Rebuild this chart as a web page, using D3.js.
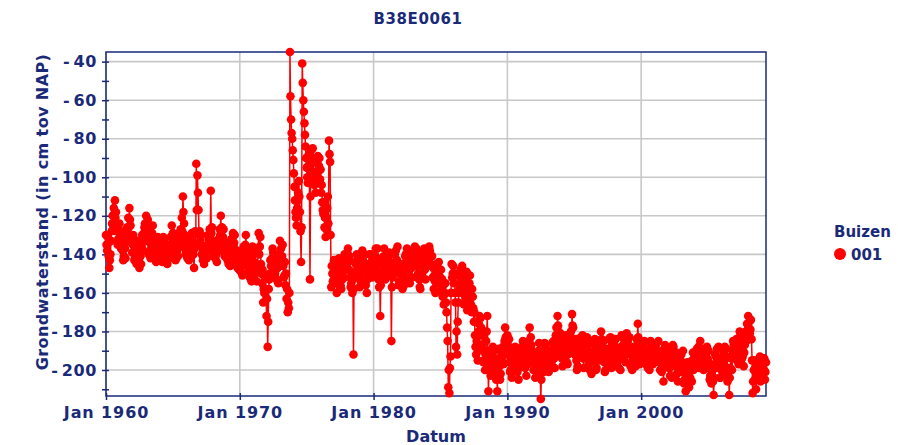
<!DOCTYPE html>
<html><head><meta charset="utf-8">
<script src="https://cdn.jsdelivr.net/npm/d3@7/dist/d3.min.js"></script>
<style>body{margin:0;background:#fff} svg{display:block} text{font-family:"DejaVu Sans",Verdana,sans-serif;font-weight:bold;fill:#1a2a78}</style>
</head><body><svg id="c" width="898" height="445"></svg>
<script>
const title = "B38E0061";
const yLabel = "Grondwaterstand (in cm tov NAP)";
const xLabel = "Datum";
const legendTitle = "Buizen";
const seriesName = "001";
const firstMonth = "1960-01-01";
const yTicks = [-40, -60, -80, -100, -120, -140, -160, -180, -200];
const yMinorTicks = [-50, -70, -90, -110, -130, -150, -170, -190, -210];
const xTickYears = [1960, 1970, 1980, 1990, 2000];
const yDomain = [-213.5, -35];

// readings on the 1st of each month (cm tov NAP), one row per year
const levels1960s = [
  -130,-138,-134,-147,-140,-128,-120,-116,-112,-118,-126,-132,
  -124,-128,-134,-138,-141,-137,-132,-126,-121,-116,-125,-131,
  -135,-139,-142,-140,-138,-144,-147,-141,-136,-132,-129,-124,
  -120,-127,-133,-139,-142,-134,-125,-133,-140,-144,-138,-135,
  -138,-143,-140,-136,-133,-138,-141,-145,-142,-137,-131,-125,
  -129,-135,-139,-142,-138,-134,-130,-127,-121,-110,-124,-134,
  -138,-142,-139,-135,-132,-129,-134,-147,-128,-93,-99,-117,
  -128,-135,-140,-143,-145,-141,-138,-135,-132,-127,-107,-126,
  -134,-139,-142,-140,-137,-132,-127,-120,-126,-131,-135,-138,
  -140,-143,-145,-141,-137,-133,-129,-134,-139,-144,-147,-142
];
const levels1970s = [
  -145,-149,-146,-141,-137,-135,-140,-145,-149,-152,-147,-141,
  -138,-144,-150,-154,-147,-129,-136,-145,-155,-165,-160,-151,
  -172,-188,-158,-150,-146,-142,-139,-144,-148,-153,-147,-140,
  -133,-137,-141,-146,-151,-156,-163,-170,-168,-35,-70,-80,
  -91,-105,-118,-125,-112,-102,-118,-144,-41,-60,-72,-84,
  -95,-103,-88,-153,-86,-90,-97,-104,-108,-99,-89,-94,
  -101,-108,-113,-119,-126,-131,-121,-110,-81,-92,-157,-150,
  -150,-145,-155,-160,-148,-142,-150,-158,-153,-146,-140,-148,
  -143,-137,-148,-152,-155,-160,-192,-150,-145,-140,-146,-152,
  -148,-142,-138,-145,-150,-156,-160,-152,-146,-140,-144,-150
];
const levels1980s = [
  -145,-140,-137,-142,-150,-157,-172,-150,-145,-141,-146,-152,
  -148,-142,-139,-145,-185,-152,-146,-140,-138,-143,-149,-154,
  -150,-155,-158,-150,-145,-140,-137,-142,-148,-152,-147,-141,
  -138,-136,-141,-146,-150,-153,-158,-145,-140,-143,-148,-144,
  -140,-137,-136,-140,-146,-152,-158,-154,-150,-146,-150,-155,
  -152,-158,-162,-166,-160,-165,-178,-209,-212,-193,-145,-150,
  -155,-160,-188,-192,-165,-158,-148,-151,-160,-166,-158,-152,
  -169,-160,-155,-162,-170,-162,-175,-182,-192,-188,-180,-172,
  -173,-182,-190,-195,-200,-185,-172,-211,-198,-203,-193,-188,
  -195,-200,-205,-211,-194,-198,-202,-195,-188,-192,-178,-185
];
const levels1990s = [
  -182,-190,-196,-200,-204,-198,-193,-188,-195,-201,-205,-197,
  -192,-188,-185,-193,-199,-203,-197,-190,-178,-183,-190,-196,
  -200,-204,-198,-194,-190,-195,-215,-200,-196,-192,-188,-193,
  -197,-201,-196,-191,-186,-190,-194,-188,-178,-172,-180,-186,
  -190,-194,-189,-184,-188,-192,-197,-190,-183,-180,-171,-178,
  -185,-190,-195,-198,-192,-187,-183,-188,-194,-190,-185,-189,
  -193,-197,-200,-196,-191,-186,-190,-195,-199,-194,-189,-185,
  -180,-186,-191,-196,-200,-195,-190,-184,-189,-194,-198,-192,
  -188,-184,-190,-195,-199,-194,-188,-183,-187,-192,-196,-181,
  -185,-188,-192,-197,-200,-194,-189,-198,-184,-176,-190,-194
];
const levels2000s = [
  -189,-192,-188,-185,-190,-195,-199,-194,-190,-186,-191,-196,
  -193,-189,-186,-191,-196,-200,-195,-198,-206,-193,-189,-192,
  -195,-199,-203,-198,-193,-188,-192,-197,-202,-206,-200,-195,
  -192,-196,-201,-205,-211,-203,-198,-209,-204,-199,-195,-200,
  -197,-192,-189,-194,-199,-185,-190,-195,-200,-196,-192,-188,
  -195,-199,-203,-207,-200,-213,-198,-193,-189,-194,-199,-204,
  -200,-196,-191,-188,-194,-200,-205,-213,-199,-194,-190,-187,
  -185,-190,-195,-191,-186,-182,-188,-193,-198,-187,-180,-176,
  -172,-175,-179,-184,-212,-200,-205,-210,-203,-198,-201,-206,
  -197,-194,-200,-205,-196
];

// readings on the 15th of each month (cm tov NAP)
const mid1960s = [
  -135,-131,-141,-143,-133,-124,-125,-119,-121,-128,-135,-127,
  -131,-137,-129,-143,-134,-142,-128,-133,-126,-122,-134,-139,
  -130,-143,-136,-145,-133,-140,-139,-145,-130,-138,-126,-133,
  -129,-122,-140,-134,-137,-129,-131,-138,-135,-140,-131,-141,
  -134,-139,-144,-131,-140,-135,-144,-139,-135,-142,-135,-130,
  -137,-131,-143,-136,-141,-129,-136,-131,-128,-118,-130,-140,
  -134,-137,-143,-131,-137,-135,-140,-137,-135,-117,-108,-130,
  -133,-130,-137,-139,-140,-136,-142,-130,-138,-131,-129,-133,
  -141,-135,-137,-144,-133,-138,-130,-131,-135,-127,-141,-134,
  -136,-139,-140,-146,-132,-138,-136,-130,-143,-138,-141,-148
];
const mid1970s = [
  -140,-144,-151,-136,-142,-130,-146,-138,-143,-145,-154,-136,
  -147,-139,-145,-148,-139,-140,-131,-150,-148,-158,-152,-158,
  -163,-175,-153,-143,-152,-137,-147,-150,-141,-146,-155,-145,
  -141,-145,-135,-152,-144,-150,-158,-165,-160,-58,-77,-86,
  -98,-112,-121,-116,-108,-110,-128,-126,-51,-66,-78,-90,
  -100,-94,-96,-110,-93,-85,-101,-98,-103,-92,-97,-90,
  -96,-104,-117,-113,-121,-127,-116,-124,-88,-130,-146,-154,
  -143,-152,-148,-154,-144,-149,-156,-151,-145,-152,-147,-141,
  -139,-144,-141,-157,-149,-153,-158,-144,-151,-148,-141,-157,
  -154,-146,-143,-140,-155,-149,-153,-145,-140,-148,-152,-143
];
const mid1980s = [
  -150,-143,-146,-137,-153,-149,-156,-142,-150,-137,-153,-147,
  -143,-148,-144,-151,-157,-145,-150,-144,-147,-136,-156,-147,
  -145,-151,-153,-156,-141,-146,-143,-138,-155,-145,-152,-138,
  -143,-140,-137,-152,-144,-157,-150,-139,-146,-137,-153,-139,
  -144,-142,-138,-145,-141,-147,-151,-160,-145,-152,-144,-159,
  -148,-153,-156,-161,-155,-170,-185,-200,-199,-160,-152,-146,
  -150,-165,-180,-175,-160,-152,-155,-146,-156,-161,-163,-149,
  -158,-165,-151,-166,-158,-168,-170,-188,-185,-195,-176,-180,
  -178,-187,-196,-190,-192,-180,-190,-200,-193,-196,-200,-194,
  -190,-196,-199,-203,-189,-205,-196,-191,-197,-185,-183,-192
];
const mid1990s = [
  -187,-184,-201,-194,-197,-192,-199,-194,-190,-197,-199,-191,
  -197,-194,-190,-188,-194,-197,-192,-185,-190,-187,-194,-200,
  -195,-199,-193,-199,-186,-201,-205,-193,-201,-186,-195,-199,
  -192,-196,-190,-197,-192,-185,-199,-182,-185,-177,-192,-181,
  -185,-198,-183,-191,-182,-196,-192,-186,-189,-186,-177,-184,
  -192,-184,-200,-191,-187,-193,-190,-182,-199,-184,-193,-183,
  -187,-191,-194,-202,-185,-192,-184,-200,-193,-188,-195,-190,
  -184,-192,-185,-201,-194,-189,-196,-190,-183,-199,-192,-186,
  -193,-189,-196,-189,-193,-200,-182,-189,-194,-186,-189,-186,
  -191,-183,-198,-192,-195,-188,-194,-190,-188,-183,-197,-188
];
const mid2000s = [
  -195,-186,-193,-191,-197,-189,-193,-200,-185,-193,-197,-190,
  -187,-194,-192,-185,-190,-194,-201,-190,-199,-187,-195,-198,
  -190,-194,-197,-204,-187,-194,-198,-191,-196,-199,-194,-201,
  -198,-190,-207,-199,-205,-196,-204,-201,-196,-206,-191,-194,
  -191,-198,-195,-188,-193,-192,-196,-189,-194,-191,-198,-194,
  -190,-205,-197,-201,-206,-204,-192,-199,-195,-188,-204,-198,
  -194,-202,-197,-193,-189,-206,-199,-204,-193,-200,-185,-193,
  -191,-184,-189,-197,-180,-188,-194,-186,-191,-182,-185,-179,
  -178,-181,-174,-195,-206,-195,-199,-204,-196,-204,-193,-199,
  -203,-199,-194,-201
];

const levels = [].concat(levels1960s, levels1970s, levels1980s, levels1990s, levels2000s);
const levelsMid = [].concat(mid1960s, mid1970s, mid1980s, mid1990s, mid2000s);
const start = d3.timeParse("%Y-%m-%d")(firstMonth);
const data = [];
levels.forEach((v, i) => {
  const m = d3.timeMonth.offset(start, i);
  data.push({date: m, value: v});
  if (i < levelsMid.length) data.push({date: d3.timeDay.offset(m, 14), value: levelsMid[i]});
});

const svg = d3.select("#c");
const L = 106, R = 766, T = 52, B = 396;
const navy = "#1a2a78";

const x = d3.scaleTime().domain([data[0].date, data[data.length - 1].date]).range([L, R]);
const y = d3.scaleLinear().domain(yDomain).range([B, T]);
const xTicks = xTickYears.map(yr => new Date(yr, 0, 1));

// grid
svg.append("g").selectAll("line").data(yTicks).join("line")
  .attr("x1", L).attr("x2", R).attr("y1", d => y(d)).attr("y2", d => y(d))
  .attr("stroke", "#c8c8c8").attr("stroke-width", 1.6);
svg.append("g").selectAll("line").data(xTicks).join("line")
  .attr("x1", d => x(d)).attr("x2", d => x(d)).attr("y1", T).attr("y2", B)
  .attr("stroke", "#c8c8c8").attr("stroke-width", 1.6);

// border
svg.append("rect").attr("x", L).attr("y", T).attr("width", R - L).attr("height", B - T)
  .attr("fill", "none").attr("stroke", navy).attr("stroke-width", 1.5);

// y axis
const yAxis = svg.append("g").attr("transform", `translate(${L},0)`)
  .call(d3.axisLeft(y).tickValues(yTicks).tickSize(4).tickPadding(5).tickFormat(d => "-\u2006" + Math.abs(d)));
const yMinor = svg.append("g").attr("transform", `translate(${L},0)`)
  .call(d3.axisLeft(y).tickValues(yMinorTicks).tickSize(4).tickFormat(""));
[yAxis, yMinor].forEach(g => {
  g.select(".domain").remove();
  g.selectAll(".tick line").attr("x1", 3).attr("stroke", navy).attr("stroke-width", 1.5);
});
yAxis.selectAll(".tick text").style("font-size", "16px").style("letter-spacing", "0.6px")
  .attr("fill", navy).attr("font-family", null);

// x axis
const xAxis = svg.append("g").attr("transform", `translate(0,${B})`)
  .call(d3.axisBottom(x).tickValues(xTicks).tickSize(4).tickPadding(7).tickFormat(d3.timeFormat("Jan %Y")));
xAxis.select(".domain").remove();
xAxis.selectAll(".tick line").attr("y1", -3).attr("stroke", navy).attr("stroke-width", 1.5);
xAxis.selectAll(".tick text").style("font-size", "16px").style("letter-spacing", "0.9px")
  .attr("fill", navy).attr("font-family", null);

// series
const line = d3.line().x(d => x(d.date)).y(d => y(d.value));
svg.append("path").datum(data).attr("d", line)
  .attr("fill", "none").attr("stroke", "#ff0000").attr("stroke-width", 1.5);
svg.append("g").selectAll("circle").data(data).join("circle")
  .attr("cx", d => x(d.date)).attr("cy", d => y(d.value)).attr("r", 4.3).attr("fill", "#ff0000");

// titles
svg.append("text").attr("x", 418).attr("y", 24).attr("text-anchor", "middle")
  .style("font-size", "15px").style("letter-spacing", "0.6px").text(title);
svg.append("text").attr("x", 436).attr("y", 442).attr("text-anchor", "middle")
  .style("font-size", "16px").text(xLabel);
svg.append("text").attr("transform", `translate(48,${(T + B) / 2 - 12}) rotate(-90)`)
  .attr("text-anchor", "middle").style("font-size", "16px").style("letter-spacing", "0.4px").text(yLabel);

// legend
svg.append("text").attr("x", 834).attr("y", 237).style("font-size", "15px").text(legendTitle);
svg.append("circle").attr("cx", 840).attr("cy", 254).attr("r", 6).attr("fill", "#ff0000");
svg.append("text").attr("x", 851).attr("y", 260).style("font-size", "15px").text(seriesName);
</script></body></html>
